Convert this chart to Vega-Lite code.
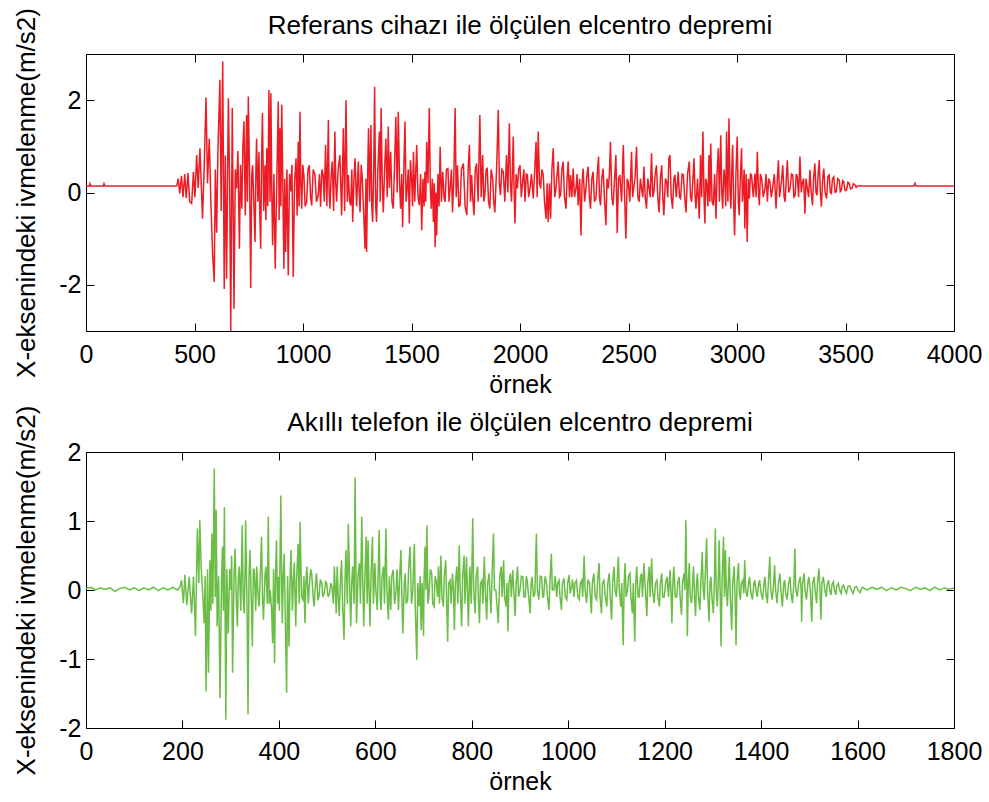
{
"$schema": "https://vega.github.io/schema/vega-lite/v6.json",
"background": "white",
"padding": {"left": 13, "top": 7, "right": 10, "bottom": 5},
"config": {
  "view": {"stroke": "black", "strokeWidth": 1},
  "font": "Liberation Sans",
  "axis": {"grid": false, "domain": false, "ticks": true, "tickColor": "black", "tickSize": -8, "labelColor": "black", "labelFontSize": 25, "labelFont": "Liberation Sans", "titleFont": "Liberation Sans", "titleFontSize": 25, "titleFontWeight": "normal", "titleColor": "black", "labelFlush": false, "labelOverlap": false, "labelExpr": "'' + datum.value"},
  "axisX": {"labelPadding": 19, "titlePadding": 5},
  "axisY": {"labelPadding": 13, "titlePadding": 19, "titleFontSize": 26},
  "title": {"fontSize": 26, "fontWeight": "normal", "font": "Liberation Sans", "color": "black", "offset": -31}
},
"datasets": {
"a": [{"x":0,"y":0.14},{"x":15,"y":0.14},{"x":18,"y":0.19},{"x":22,"y":0.14},{"x":80,"y":0.14},{"x":83,"y":0.19},{"x":87,"y":0.14},{"x":418,"y":0.14},
{"x":425,"y":0.3},{"x":432,"y":-0.02},{"x":440,"y":0.36},{"x":447,"y":-0.1},{"x":455,"y":0.4},{"x":462,"y":-0.12},{"x":470,"y":0.42},{"x":478,"y":-0.2},{"x":487,"y":-0.24},{"x":495,"y":0.45},{"x":502,"y":-0.1},{"x":510,"y":0.81},{"x":517,"y":0.1},{"x":525,"y":0.96},{"x":531,"y":0.2},{"x":537,"y":-0.57},{"x":545,"y":0.6},{"x":553,"y":2.06},{"x":560,"y":0.2},{"x":568,"y":1.17},{"x":576,"y":-0.3},{"x":584,"y":-1.39},{"x":591,"y":-1.94},{"x":596,"y":0.5},{"x":602,"y":-0.87},{"x":608,"y":0.9},{"x":617,"y":2.44},{"x":623,"y":-0.4},{"x":630,"y":2.84},{"x":637,"y":-2.09},{"x":642,"y":0.8},{"x":648,"y":-1.87},{"x":656,"y":2.04},{"x":662,"y":0.2},{"x":667,"y":-3.0},{"x":674,"y":1.83},{"x":678,"y":-0.3},{"x":682,"y":-2.52},{"x":688,"y":0.5},{"x":694,"y":0.09},{"x":700,"y":0.9},{"x":707,"y":-1.22},{"x":712,"y":0.6},{"x":718,"y":-0.35},{"x":723,"y":1.0},{"x":728,"y":1.54},{"x":734,"y":-0.5},{"x":740,"y":1.68},{"x":744,"y":-0.2},{"x":748,"y":2.08},{"x":754,"y":0.3},{"x":759,"y":-2.07},{"x":764,"y":0.4},{"x":768,"y":0.59},{"x":774,"y":-0.3},{"x":779,"y":-1.07},{"x":783,"y":0.5},{"x":786,"y":1.17},{"x":792,"y":-0.2},{"x":797,"y":0.88},{"x":801,"y":-0.5},{"x":805,"y":-1.22},{"x":809,"y":0.6},{"x":813,"y":1.72},{"x":819,"y":-0.4},{"x":825,"y":0.59},{"x":829,"y":-0.6},{"x":833,"y":0.96},{"x":838,"y":-0.3},{"x":843,"y":2.22},{"x":848,"y":-0.2},{"x":852,"y":2.15},{"x":856,"y":0.1},{"x":860,"y":-1.14},{"x":866,"y":0.4},{"x":872,"y":-1.65},{"x":879,"y":0.2},{"x":886,"y":1.97},{"x":890,"y":-0.6},{"x":894,"y":1.39},{"x":898,"y":-0.3},{"x":902,"y":1.9},{"x":907,"y":0.2},{"x":912,"y":-1.65},{"x":916,"y":0.3},{"x":920,"y":-1.29},{"x":926,"y":0.5},{"x":932,"y":-1.8},{"x":938,"y":0.4},{"x":943,"y":0.02},{"x":949,"y":0.6},{"x":955,"y":-1.83},{"x":961,"y":0.2},{"x":968,"y":0.74},{"x":973,"y":-0.5},{"x":978,"y":1.1},{"x":982,"y":-0.3},{"x":986,"y":1.75},{"x":990,"y":0.2},{"x":994,"y":-0.35},{"x":999,"y":0.6},{"x":1004,"y":0.38},{"x":1010,"y":-0.3},{"x":1017,"y":-0.2},{"x":1023,"y":0.5},{"x":1029,"y":0.59},{"x":1035,"y":-0.1},{"x":1040,"y":-0.28},{"x":1047,"y":0.5},{"x":1055,"y":0.38},{"x":1062,"y":-0.2},{"x":1070,"y":-0.06},{"x":1076,"y":0.4},{"x":1081,"y":-0.31},{"x":1087,"y":0.5},{"x":1093,"y":0.38},{"x":1098,"y":-0.2},{"x":1104,"y":1.03},{"x":1110,"y":-0.3},{"x":1117,"y":1.57},{"x":1120,"y":0.1},{"x":1124,"y":-0.35},{"x":1130,"y":0.4},{"x":1135,"y":0.67},{"x":1141,"y":-0.4},{"x":1147,"y":1.32},{"x":1151,"y":0.2},{"x":1155,"y":-0.2},{"x":1162,"y":0.5},{"x":1170,"y":0.81},{"x":1178,"y":-0.5},{"x":1186,"y":1.39},{"x":1192,"y":-0.4},{"x":1198,"y":2.0},{"x":1204,"y":-0.2},{"x":1209,"y":0.38},{"x":1215,"y":-0.2},{"x":1220,"y":-0.28},{"x":1225,"y":0.5},{"x":1229,"y":-0.64},{"x":1235,"y":0.3},{"x":1240,"y":0.74},{"x":1247,"y":-0.3},{"x":1255,"y":0.67},{"x":1259,"y":0.0},{"x":1263,"y":-0.43},{"x":1268,"y":0.6},{"x":1273,"y":0.34},{"x":1280,"y":-0.5},{"x":1286,"y":-1.22},{"x":1290,"y":0.3},{"x":1293,"y":-1.29},{"x":1298,"y":0.4},{"x":1302,"y":1.39},{"x":1307,"y":-0.2},{"x":1313,"y":1.46},{"x":1317,"y":-0.3},{"x":1321,"y":-0.64},{"x":1326,"y":0.5},{"x":1330,"y":2.29},{"x":1335,"y":-0.3},{"x":1339,"y":-0.64},{"x":1345,"y":0.5},{"x":1352,"y":1.32},{"x":1356,"y":-0.2},{"x":1360,"y":1.83},{"x":1365,"y":0.3},{"x":1370,"y":-0.43},{"x":1376,"y":0.5},{"x":1382,"y":1.17},{"x":1388,"y":-0.1},{"x":1393,"y":1.43},{"x":1398,"y":0.1},{"x":1404,"y":0.88},{"x":1410,"y":-0.2},{"x":1416,"y":-0.35},{"x":1422,"y":0.6},{"x":1428,"y":1.64},{"x":1434,"y":0.0},{"x":1439,"y":1.75},{"x":1445,"y":0.2},{"x":1450,"y":-0.35},{"x":1455,"y":0.4},{"x":1459,"y":-0.75},{"x":1465,"y":0.6},{"x":1470,"y":1.54},{"x":1475,"y":-0.2},{"x":1480,"y":0.09},{"x":1485,"y":0.5},{"x":1490,"y":-0.67},{"x":1495,"y":0.7},{"x":1501,"y":0.23},{"x":1505,"y":-0.3},{"x":1509,"y":0.88},{"x":1515,"y":-0.2},{"x":1520,"y":0.5},{"x":1524,"y":1.03},{"x":1530,"y":-0.1},{"x":1536,"y":-0.28},{"x":1542,"y":0.4},{"x":1547,"y":-0.82},{"x":1553,"y":0.3},{"x":1558,"y":-0.3},{"x":1562,"y":0.45},{"x":1566,"y":-0.2},{"x":1570,"y":1.1},{"x":1576,"y":0.2},{"x":1582,"y":1.83},{"x":1587,"y":0.1},{"x":1591,"y":-0.35},{"x":1596,"y":0.3},{"x":1601,"y":-0.64},{"x":1605,"y":0.2},{"x":1609,"y":-1.18},{"x":1613,"y":0.0},{"x":1616,"y":-0.93},{"x":1622,"y":0.4},{"x":1627,"y":-0.3},{"x":1632,"y":0.99},{"x":1638,"y":-0.2},{"x":1644,"y":0.45},{"x":1650,"y":-0.1},{"x":1655,"y":-0.2},{"x":1661,"y":0.5},{"x":1668,"y":0.52},{"x":1673,"y":-0.2},{"x":1678,"y":0.09},{"x":1684,"y":0.5},{"x":1689,"y":-0.43},{"x":1695,"y":0.3},{"x":1701,"y":1.83},{"x":1706,"y":-0.1},{"x":1712,"y":0.59},{"x":1718,"y":-0.3},{"x":1724,"y":-0.28},{"x":1730,"y":0.5},{"x":1739,"y":0.63},{"x":1747,"y":-0.3},{"x":1755,"y":-0.49},{"x":1761,"y":0.5},{"x":1767,"y":1.03},{"x":1772,"y":-0.2},{"x":1777,"y":0.38},{"x":1782,"y":-0.1},{"x":1788,"y":-0.49},{"x":1794,"y":0.5},{"x":1800,"y":0.63},{"x":1807,"y":-0.2},{"x":1815,"y":1.68},{"x":1821,"y":-0.1},{"x":1828,"y":0.81},{"x":1833,"y":-0.2},{"x":1838,"y":-0.06},{"x":1844,"y":0.5},{"x":1849,"y":0.52},{"x":1855,"y":-0.2},{"x":1861,"y":-0.35},{"x":1867,"y":0.5},{"x":1874,"y":0.3},{"x":1879,"y":-0.2},{"x":1884,"y":-0.43},{"x":1892,"y":0.5},{"x":1900,"y":1.79},{"x":1905,"y":0.2},{"x":1910,"y":-0.06},{"x":1916,"y":0.5},{"x":1923,"y":0.45},{"x":1930,"y":-0.2},{"x":1938,"y":0.81},{"x":1944,"y":0.0},{"x":1951,"y":1.5},{"x":1956,"y":0.2},{"x":1961,"y":-0.2},{"x":1965,"y":0.5},{"x":1969,"y":1.21},{"x":1973,"y":0.0},{"x":1977,"y":-0.67},{"x":1982,"y":0.4},{"x":1988,"y":0.09},{"x":1994,"y":0.5},{"x":2000,"y":0.59},{"x":2006,"y":-0.1},{"x":2012,"y":0.23},{"x":2018,"y":0.5},{"x":2023,"y":-0.2},{"x":2029,"y":0.4},{"x":2034,"y":0.38},{"x":2040,"y":-0.1},{"x":2046,"y":0.09},{"x":2053,"y":0.4},{"x":2061,"y":-0.13},{"x":2068,"y":0.5},{"x":2074,"y":1.1},{"x":2079,"y":-0.1},{"x":2084,"y":1.32},{"x":2090,"y":0.2},{"x":2095,"y":0.09},{"x":2101,"y":0.5},{"x":2107,"y":0.38},{"x":2113,"y":-0.2},{"x":2120,"y":-0.57},{"x":2125,"y":0.2},{"x":2130,"y":-0.64},{"x":2136,"y":0.2},{"x":2141,"y":-0.57},{"x":2147,"y":0.5},{"x":2153,"y":0.96},{"x":2160,"y":-0.1},{"x":2166,"y":0.09},{"x":2171,"y":0.4},{"x":2176,"y":0.67},{"x":2182,"y":-0.1},{"x":2187,"y":-0.06},{"x":2193,"y":0.5},{"x":2199,"y":0.67},{"x":2205,"y":-0.1},{"x":2212,"y":-0.35},{"x":2217,"y":0.3},{"x":2222,"y":0.67},{"x":2228,"y":-0.1},{"x":2233,"y":0.38},{"x":2239,"y":-0.1},{"x":2245,"y":0.52},{"x":2251,"y":-0.1},{"x":2258,"y":0.09},{"x":2263,"y":0.4},{"x":2268,"y":-0.28},{"x":2275,"y":0.3},{"x":2281,"y":-0.93},{"x":2286,"y":0.2},{"x":2291,"y":0.52},{"x":2298,"y":-0.2},{"x":2304,"y":0.09},{"x":2309,"y":0.4},{"x":2314,"y":0.56},{"x":2320,"y":-0.1},{"x":2325,"y":-0.35},{"x":2331,"y":0.3},{"x":2337,"y":0.45},{"x":2343,"y":-0.2},{"x":2350,"y":-0.13},{"x":2356,"y":0.4},{"x":2362,"y":0.78},{"x":2366,"y":-0.1},{"x":2371,"y":-0.28},{"x":2377,"y":0.3},{"x":2383,"y":0.52},{"x":2390,"y":-0.2},{"x":2396,"y":-0.71},{"x":2401,"y":0.3},{"x":2407,"y":0.09},{"x":2412,"y":0.4},{"x":2417,"y":1.1},{"x":2423,"y":-0.1},{"x":2429,"y":-0.28},{"x":2436,"y":0.3},{"x":2442,"y":0.81},{"x":2448,"y":-0.88},{"x":2454,"y":0.3},{"x":2460,"y":0.38},{"x":2468,"y":-0.2},{"x":2476,"y":1.03},{"x":2482,"y":-0.1},{"x":2488,"y":-1.0},{"x":2494,"y":0.3},{"x":2499,"y":0.23},{"x":2506,"y":-0.2},{"x":2514,"y":0.88},{"x":2519,"y":-0.1},{"x":2524,"y":0.09},{"x":2530,"y":0.3},{"x":2537,"y":0.99},{"x":2543,"y":-0.1},{"x":2549,"y":-0.2},{"x":2555,"y":0.3},{"x":2560,"y":0.09},{"x":2566,"y":-0.1},{"x":2571,"y":0.56},{"x":2577,"y":-0.1},{"x":2583,"y":-0.35},{"x":2589,"y":0.3},{"x":2595,"y":0.09},{"x":2600,"y":-0.1},{"x":2606,"y":0.85},{"x":2612,"y":-0.1},{"x":2617,"y":0.02},{"x":2623,"y":0.4},{"x":2629,"y":0.59},{"x":2635,"y":-0.1},{"x":2641,"y":-0.43},{"x":2647,"y":0.3},{"x":2653,"y":0.59},{"x":2658,"y":-0.1},{"x":2663,"y":-0.49},{"x":2670,"y":0.3},{"x":2676,"y":0.23},{"x":2681,"y":-0.1},{"x":2686,"y":0.74},{"x":2691,"y":0.81},{"x":2697,"y":-0.1},{"x":2703,"y":-0.35},{"x":2709,"y":0.3},{"x":2714,"y":0.38},{"x":2720,"y":-0.1},{"x":2729,"y":0.45},{"x":2735,"y":-0.1},{"x":2740,"y":-0.13},{"x":2747,"y":0.4},{"x":2753,"y":0.38},{"x":2759,"y":-0.1},{"x":2765,"y":-0.43},{"x":2772,"y":0.4},{"x":2780,"y":0.67},{"x":2786,"y":-0.1},{"x":2791,"y":-0.2},{"x":2797,"y":0.3},{"x":2802,"y":0.74},{"x":2807,"y":-0.1},{"x":2811,"y":-0.35},{"x":2818,"y":0.3},{"x":2826,"y":-0.57},{"x":2832,"y":0.81},{"x":2837,"y":-0.1},{"x":2843,"y":1.32},{"x":2848,"y":-0.1},{"x":2852,"y":-0.67},{"x":2856,"y":0.3},{"x":2860,"y":0.23},{"x":2866,"y":-0.3},{"x":2871,"y":0.81},{"x":2875,"y":-0.2},{"x":2879,"y":1.06},{"x":2885,"y":-0.2},{"x":2891,"y":-0.28},{"x":2897,"y":0.4},{"x":2903,"y":-0.57},{"x":2908,"y":0.4},{"x":2914,"y":0.96},{"x":2919,"y":-0.2},{"x":2925,"y":1.24},{"x":2930,"y":0.0},{"x":2934,"y":-0.35},{"x":2940,"y":0.5},{"x":2944,"y":0.3},{"x":2948,"y":-0.3},{"x":2952,"y":1.32},{"x":2958,"y":-0.2},{"x":2963,"y":1.61},{"x":2968,"y":0.0},{"x":2972,"y":-0.35},{"x":2976,"y":0.5},{"x":2980,"y":1.03},{"x":2985,"y":-0.3},{"x":2989,"y":-0.93},{"x":2995,"y":0.4},{"x":3001,"y":1.21},{"x":3006,"y":-0.2},{"x":3010,"y":-0.49},{"x":3016,"y":0.4},{"x":3021,"y":0.96},{"x":3025,"y":-0.2},{"x":3029,"y":0.09},{"x":3033,"y":0.5},{"x":3036,"y":-0.78},{"x":3042,"y":0.4},{"x":3047,"y":-1.07},{"x":3052,"y":0.3},{"x":3057,"y":-0.13},{"x":3062,"y":0.4},{"x":3067,"y":0.38},{"x":3075,"y":-0.1},{"x":3083,"y":0.41},{"x":3088,"y":-0.1},{"x":3094,"y":0.88},{"x":3099,"y":0.0},{"x":3103,"y":-0.28},{"x":3108,"y":0.4},{"x":3114,"y":0.3},{"x":3121,"y":-0.1},{"x":3129,"y":0.09},{"x":3134,"y":0.4},{"x":3140,"y":-0.2},{"x":3146,"y":0.3},{"x":3152,"y":0.23},{"x":3158,"y":-0.1},{"x":3164,"y":0.09},{"x":3172,"y":0.4},{"x":3180,"y":-0.35},{"x":3186,"y":0.3},{"x":3191,"y":0.7},{"x":3196,"y":-0.1},{"x":3201,"y":0.09},{"x":3206,"y":0.3},{"x":3211,"y":0.59},{"x":3217,"y":-0.1},{"x":3222,"y":-0.2},{"x":3227,"y":0.3},{"x":3232,"y":0.7},{"x":3238,"y":0.0},{"x":3245,"y":0.09},{"x":3251,"y":0.4},{"x":3257,"y":0.38},{"x":3262,"y":-0.1},{"x":3268,"y":-0.06},{"x":3273,"y":0.4},{"x":3278,"y":0.34},{"x":3284,"y":-0.1},{"x":3290,"y":0.78},{"x":3296,"y":0.0},{"x":3302,"y":0.23},{"x":3307,"y":0.3},{"x":3313,"y":-0.46},{"x":3318,"y":0.3},{"x":3324,"y":0.09},{"x":3330,"y":-0.1},{"x":3336,"y":0.49},{"x":3342,"y":0.0},{"x":3348,"y":-0.28},{"x":3353,"y":0.3},{"x":3359,"y":0.63},{"x":3364,"y":0.0},{"x":3369,"y":-0.06},{"x":3374,"y":0.4},{"x":3379,"y":0.7},{"x":3384,"y":0.0},{"x":3389,"y":-0.31},{"x":3395,"y":0.3},{"x":3400,"y":0.52},{"x":3406,"y":0.0},{"x":3413,"y":-0.13},{"x":3419,"y":0.35},{"x":3425,"y":0.38},{"x":3430,"y":0.0},{"x":3435,"y":-0.02},{"x":3440,"y":0.3},{"x":3446,"y":0.34},{"x":3452,"y":0.0},{"x":3458,"y":0.02},{"x":3464,"y":0.3},{"x":3471,"y":0.27},{"x":3476,"y":0.02},{"x":3481,"y":0.05},{"x":3487,"y":0.26},{"x":3492,"y":0.23},{"x":3498,"y":0.04},{"x":3505,"y":0.05},{"x":3511,"y":0.22},{"x":3517,"y":0.2},{"x":3523,"y":0.08},{"x":3530,"y":0.09},{"x":3536,"y":0.19},{"x":3543,"y":0.17},{"x":3549,"y":0.11},{"x":3554,"y":0.14},{"x":3600,"y":0.14},{"x":3815,"y":0.14},{"x":3820,"y":0.2},{"x":3825,"y":0.14},{"x":4000,"y":0.14}],
"b": [{"x":0,"y":0.02},{"x":10,"y":0.04},{"x":20,"y":0.0},{"x":30,"y":0.03},{"x":40,"y":0.01},{"x":50,"y":0.03},{"x":60,"y":-0.02},{"x":70,"y":0.02},{"x":80,"y":0.04},{"x":90,"y":0.0},{"x":100,"y":0.03},{"x":110,"y":-0.01},{"x":120,"y":0.03},{"x":130,"y":0.0},{"x":140,"y":0.04},{"x":150,"y":-0.01},{"x":160,"y":0.03},{"x":170,"y":0.0},{"x":180,"y":0.04},{"x":190,"y":0.0},{"x":195,"y":0.05},
{"x":198,"y":0.14},{"x":202,"y":-0.19},{"x":205,"y":0.22},{"x":209,"y":-0.22},{"x":214,"y":0.19},{"x":219,"y":-0.34},{"x":223,"y":0.19},{"x":227,"y":-0.67},{"x":231,"y":0.89},{"x":234,"y":0.1},{"x":236,"y":1.01},{"x":239,"y":0.3},{"x":242,"y":-0.05},{"x":245,"y":-0.48},{"x":247,"y":0.2},{"x":249,"y":-1.47},{"x":252,"y":0.3},{"x":254,"y":-1.2},{"x":257,"y":0.43},{"x":259,"y":-0.3},{"x":261,"y":0.82},{"x":263,"y":-0.2},{"x":266,"y":1.76},{"x":268,"y":-0.1},{"x":270,"y":1.16},{"x":272,"y":-0.53},{"x":275,"y":0.2},{"x":278,"y":-1.57},{"x":281,"y":0.1},{"x":283,"y":0.63},{"x":285,"y":-0.3},{"x":287,"y":1.2},{"x":290,"y":-1.88},{"x":292,"y":0.3},{"x":295,"y":-0.63},{"x":298,"y":0.3},{"x":300,"y":0.0},{"x":302,"y":0.5},{"x":304,"y":-1.2},{"x":307,"y":0.2},{"x":309,"y":0.6},{"x":312,"y":-0.2},{"x":314,"y":-0.53},{"x":316,"y":0.2},{"x":318,"y":0.34},{"x":321,"y":-0.3},{"x":324,"y":0.94},{"x":326,"y":-0.1},{"x":328,"y":-0.34},{"x":330,"y":0.3},{"x":331,"y":1.01},{"x":334,"y":-0.3},{"x":336,"y":-1.8},{"x":338,"y":0.2},{"x":340,"y":0.58},{"x":343,"y":-0.2},{"x":345,"y":-0.82},{"x":347,"y":0.3},{"x":349,"y":0.29},{"x":352,"y":-0.3},{"x":354,"y":0.34},{"x":357,"y":-0.1},{"x":359,"y":-0.24},{"x":362,"y":0.3},{"x":364,"y":0.77},{"x":366,"y":-0.1},{"x":368,"y":-0.43},{"x":371,"y":0.2},{"x":373,"y":0.34},{"x":376,"y":-0.2},{"x":378,"y":1.06},{"x":380,"y":-0.2},{"x":382,"y":0.0},{"x":385,"y":-0.3},{"x":387,"y":-0.77},{"x":389,"y":0.3},{"x":391,"y":-1.06},{"x":393,"y":0.2},{"x":395,"y":0.72},{"x":397,"y":-0.2},{"x":399,"y":0.19},{"x":401,"y":-0.3},{"x":404,"y":1.37},{"x":406,"y":0.0},{"x":407,"y":-0.48},{"x":409,"y":0.2},{"x":411,"y":0.53},{"x":413,"y":-0.3},{"x":416,"y":-1.49},{"x":418,"y":0.2},{"x":421,"y":-0.82},{"x":423,"y":0.1},{"x":425,"y":0.58},{"x":428,"y":-0.3},{"x":430,"y":0.14},{"x":432,"y":0.4},{"x":435,"y":-0.53},{"x":437,"y":0.2},{"x":440,"y":0.67},{"x":442,"y":-0.2},{"x":444,"y":0.99},{"x":447,"y":-0.1},{"x":450,"y":-0.14},{"x":452,"y":0.2},{"x":454,"y":-0.48},{"x":456,"y":0.1},{"x":458,"y":0.34},{"x":461,"y":-0.2},{"x":463,"y":0.05},{"x":466,"y":0.3},{"x":468,"y":0.24},{"x":471,"y":-0.1},{"x":473,"y":-0.24},{"x":476,"y":0.1},{"x":478,"y":0.24},{"x":481,"y":-0.15},{"x":483,"y":-0.1},{"x":486,"y":0.15},{"x":489,"y":0.1},{"x":491,"y":-0.1},{"x":494,"y":-0.05},{"x":497,"y":0.12},{"x":499,"y":0.1},{"x":502,"y":-0.1},{"x":505,"y":-0.05},{"x":508,"y":0.1},{"x":510,"y":0.05},{"x":513,"y":-0.2},{"x":515,"y":0.34},{"x":517,"y":0.0},{"x":519,"y":-0.34},{"x":520,"y":0.1},{"x":521,"y":0.34},{"x":523,"y":-0.1},{"x":525,"y":-0.38},{"x":528,"y":0.2},{"x":530,"y":0.43},{"x":532,"y":-0.2},{"x":535,"y":-0.72},{"x":537,"y":0.1},{"x":539,"y":0.58},{"x":542,"y":-0.2},{"x":544,"y":0.96},{"x":547,"y":0.0},{"x":549,"y":-0.53},{"x":551,"y":0.1},{"x":553,"y":0.34},{"x":556,"y":-0.2},{"x":558,"y":1.63},{"x":560,"y":0.2},{"x":561,"y":-0.48},{"x":564,"y":0.2},{"x":567,"y":0.39},{"x":569,"y":-0.2},{"x":572,"y":1.06},{"x":574,"y":0.1},{"x":576,"y":-0.53},{"x":578,"y":0.1},{"x":581,"y":0.77},{"x":583,"y":-0.2},{"x":585,"y":0.72},{"x":587,"y":0.0},{"x":589,"y":-0.53},{"x":591,"y":0.2},{"x":594,"y":0.77},{"x":596,"y":-0.2},{"x":599,"y":0.39},{"x":601,"y":0.0},{"x":604,"y":-0.29},{"x":606,"y":0.3},{"x":608,"y":0.87},{"x":610,"y":-0.1},{"x":612,"y":-0.29},{"x":614,"y":0.2},{"x":617,"y":0.34},{"x":619,"y":-0.2},{"x":622,"y":0.89},{"x":624,"y":0.0},{"x":627,"y":-0.43},{"x":629,"y":0.2},{"x":632,"y":-0.29},{"x":634,"y":0.2},{"x":637,"y":0.29},{"x":640,"y":-0.2},{"x":643,"y":0.0},{"x":645,"y":0.3},{"x":648,"y":-0.29},{"x":650,"y":0.1},{"x":653,"y":0.58},{"x":655,"y":-0.1},{"x":657,"y":-0.63},{"x":660,"y":0.1},{"x":662,"y":0.24},{"x":664,"y":-0.2},{"x":667,"y":-0.14},{"x":669,"y":0.3},{"x":672,"y":0.63},{"x":675,"y":-0.2},{"x":678,"y":0.0},{"x":679,"y":0.3},{"x":681,"y":0.67},{"x":683,"y":-0.3},{"x":686,"y":-1.01},{"x":688,"y":0.1},{"x":691,"y":-0.24},{"x":693,"y":0.2},{"x":695,"y":-0.58},{"x":697,"y":0.1},{"x":700,"y":-0.67},{"x":701,"y":0.1},{"x":703,"y":0.63},{"x":705,"y":0.0},{"x":707,"y":0.94},{"x":709,"y":-0.2},{"x":711,"y":-0.1},{"x":714,"y":0.3},{"x":717,"y":0.24},{"x":719,"y":-0.2},{"x":722,"y":-0.24},{"x":724,"y":0.2},{"x":727,"y":0.1},{"x":729,"y":-0.1},{"x":731,"y":0.34},{"x":733,"y":-0.2},{"x":736,"y":0.5},{"x":738,"y":-0.1},{"x":741,"y":-0.24},{"x":743,"y":0.2},{"x":746,"y":0.43},{"x":748,"y":-0.2},{"x":750,"y":-0.75},{"x":752,"y":0.1},{"x":755,"y":0.14},{"x":757,"y":-0.2},{"x":760,"y":0.24},{"x":762,"y":0.0},{"x":764,"y":-0.58},{"x":766,"y":0.1},{"x":769,"y":0.34},{"x":771,"y":-0.2},{"x":774,"y":0.65},{"x":776,"y":0.0},{"x":779,"y":-0.53},{"x":781,"y":0.2},{"x":784,"y":0.5},{"x":786,"y":-0.2},{"x":789,"y":0.48},{"x":791,"y":0.0},{"x":793,"y":-0.53},{"x":795,"y":0.1},{"x":796,"y":0.34},{"x":799,"y":-0.2},{"x":802,"y":1.04},{"x":804,"y":0.0},{"x":807,"y":-0.34},{"x":809,"y":0.2},{"x":812,"y":0.34},{"x":814,"y":-0.2},{"x":816,"y":-0.48},{"x":818,"y":0.1},{"x":821,"y":0.14},{"x":823,"y":-0.2},{"x":826,"y":0.48},{"x":828,"y":0.0},{"x":831,"y":-0.43},{"x":833,"y":0.1},{"x":836,"y":0.24},{"x":838,"y":-0.1},{"x":840,"y":-0.34},{"x":842,"y":0.2},{"x":845,"y":0.82},{"x":847,"y":0.0},{"x":850,"y":0.0},{"x":852,"y":-0.2},{"x":855,"y":-0.48},{"x":858,"y":0.2},{"x":861,"y":0.34},{"x":863,"y":-0.1},{"x":866,"y":0.43},{"x":868,"y":-0.1},{"x":871,"y":-0.24},{"x":873,"y":0.1},{"x":875,"y":-0.6},{"x":877,"y":0.1},{"x":880,"y":0.24},{"x":882,"y":-0.1},{"x":885,"y":0.29},{"x":887,"y":0.0},{"x":890,"y":-0.38},{"x":892,"y":0.1},{"x":895,"y":0.34},{"x":897,"y":-0.1},{"x":900,"y":0.0},{"x":903,"y":0.2},{"x":906,"y":0.19},{"x":908,"y":-0.1},{"x":911,"y":-0.1},{"x":913,"y":0.2},{"x":915,"y":0.14},{"x":918,"y":-0.1},{"x":921,"y":-0.34},{"x":923,"y":0.1},{"x":925,"y":0.19},{"x":928,"y":-0.1},{"x":931,"y":-0.05},{"x":932,"y":0.3},{"x":934,"y":0.82},{"x":936,"y":0.0},{"x":939,"y":-0.14},{"x":942,"y":0.2},{"x":945,"y":0.19},{"x":947,"y":-0.1},{"x":949,"y":-0.1},{"x":952,"y":0.2},{"x":955,"y":0.1},{"x":957,"y":-0.1},{"x":960,"y":-0.29},{"x":962,"y":0.1},{"x":965,"y":0.53},{"x":967,"y":0.0},{"x":970,"y":0.0},{"x":973,"y":0.2},{"x":976,"y":-0.1},{"x":978,"y":0.1},{"x":981,"y":0.14},{"x":983,"y":-0.1},{"x":986,"y":-0.29},{"x":988,"y":0.1},{"x":991,"y":0.17},{"x":994,"y":-0.1},{"x":997,"y":-0.14},{"x":999,"y":0.1},{"x":1002,"y":0.22},{"x":1004,"y":-0.05},{"x":1007,"y":0.05},{"x":1009,"y":0.15},{"x":1012,"y":-0.1},{"x":1014,"y":0.1},{"x":1017,"y":0.14},{"x":1020,"y":-0.1},{"x":1023,"y":-0.14},{"x":1025,"y":0.1},{"x":1028,"y":0.14},{"x":1030,"y":-0.1},{"x":1033,"y":0.5},{"x":1035,"y":0.0},{"x":1038,"y":-0.19},{"x":1041,"y":0.15},{"x":1044,"y":0.1},{"x":1046,"y":-0.1},{"x":1048,"y":-0.34},{"x":1050,"y":0.1},{"x":1053,"y":0.24},{"x":1056,"y":-0.1},{"x":1059,"y":-0.14},{"x":1061,"y":0.15},{"x":1064,"y":0.39},{"x":1066,"y":-0.1},{"x":1069,"y":-0.34},{"x":1071,"y":0.1},{"x":1074,"y":0.14},{"x":1077,"y":-0.1},{"x":1080,"y":-0.24},{"x":1082,"y":0.1},{"x":1085,"y":0.24},{"x":1087,"y":-0.1},{"x":1090,"y":-0.43},{"x":1092,"y":0.1},{"x":1095,"y":0.34},{"x":1097,"y":0.0},{"x":1100,"y":-0.1},{"x":1102,"y":0.2},{"x":1104,"y":0.48},{"x":1106,"y":0.0},{"x":1109,"y":-0.24},{"x":1111,"y":0.1},{"x":1114,"y":-0.8},{"x":1116,"y":0.1},{"x":1118,"y":0.39},{"x":1120,"y":-0.1},{"x":1123,"y":0.0},{"x":1125,"y":0.2},{"x":1128,"y":0.24},{"x":1130,"y":-0.1},{"x":1133,"y":-0.34},{"x":1135,"y":0.1},{"x":1138,"y":-0.75},{"x":1140,"y":0.1},{"x":1142,"y":0.34},{"x":1145,"y":-0.1},{"x":1147,"y":-0.1},{"x":1150,"y":0.2},{"x":1152,"y":0.24},{"x":1154,"y":-0.1},{"x":1157,"y":0.39},{"x":1160,"y":0.0},{"x":1163,"y":-0.38},{"x":1165,"y":0.1},{"x":1168,"y":0.34},{"x":1170,"y":-0.1},{"x":1173,"y":0.46},{"x":1175,"y":0.0},{"x":1178,"y":-0.19},{"x":1181,"y":0.1},{"x":1184,"y":0.14},{"x":1186,"y":-0.1},{"x":1189,"y":-0.24},{"x":1191,"y":0.1},{"x":1194,"y":0.24},{"x":1196,"y":-0.1},{"x":1199,"y":-0.1},{"x":1202,"y":0.1},{"x":1205,"y":0.19},{"x":1208,"y":-0.1},{"x":1211,"y":0.29},{"x":1213,"y":0.0},{"x":1215,"y":-0.48},{"x":1217,"y":0.1},{"x":1219,"y":0.34},{"x":1222,"y":-0.1},{"x":1225,"y":-0.1},{"x":1227,"y":0.1},{"x":1230,"y":0.19},{"x":1232,"y":-0.1},{"x":1235,"y":-0.36},{"x":1237,"y":0.1},{"x":1240,"y":0.24},{"x":1242,"y":0.0},{"x":1244,"y":1.01},{"x":1246,"y":0.0},{"x":1247,"y":-0.67},{"x":1249,"y":0.1},{"x":1251,"y":0.39},{"x":1253,"y":-0.1},{"x":1256,"y":-0.19},{"x":1258,"y":0.1},{"x":1260,"y":0.34},{"x":1262,"y":-0.1},{"x":1264,"y":-0.38},{"x":1266,"y":0.1},{"x":1268,"y":0.24},{"x":1270,"y":-0.1},{"x":1273,"y":-0.29},{"x":1275,"y":0.1},{"x":1278,"y":0.55},{"x":1280,"y":0.0},{"x":1282,"y":-0.14},{"x":1284,"y":0.2},{"x":1287,"y":0.75},{"x":1289,"y":0.0},{"x":1292,"y":-0.46},{"x":1294,"y":0.1},{"x":1296,"y":0.19},{"x":1298,"y":-0.1},{"x":1301,"y":-0.34},{"x":1303,"y":0.1},{"x":1305,"y":0.89},{"x":1307,"y":0.0},{"x":1309,"y":-0.24},{"x":1311,"y":0.1},{"x":1313,"y":0.72},{"x":1315,"y":0.0},{"x":1317,"y":-0.82},{"x":1319,"y":0.1},{"x":1322,"y":0.77},{"x":1324,"y":-0.1},{"x":1326,"y":0.58},{"x":1328,"y":0.0},{"x":1330,"y":-0.24},{"x":1332,"y":0.1},{"x":1334,"y":0.48},{"x":1336,"y":-0.1},{"x":1339,"y":-0.58},{"x":1341,"y":0.1},{"x":1344,"y":0.34},{"x":1346,"y":-0.1},{"x":1348,"y":-0.8},{"x":1350,"y":0.1},{"x":1353,"y":0.39},{"x":1355,"y":-0.05},{"x":1357,"y":-0.14},{"x":1359,"y":0.1},{"x":1362,"y":0.14},{"x":1364,"y":-0.05},{"x":1366,"y":0.43},{"x":1368,"y":0.0},{"x":1371,"y":-0.1},{"x":1374,"y":0.1},{"x":1376,"y":0.19},{"x":1379,"y":-0.05},{"x":1382,"y":-0.14},{"x":1385,"y":0.1},{"x":1387,"y":0.14},{"x":1390,"y":-0.05},{"x":1392,"y":-0.1},{"x":1395,"y":0.1},{"x":1397,"y":0.14},{"x":1400,"y":-0.05},{"x":1403,"y":-0.14},{"x":1406,"y":0.1},{"x":1408,"y":0.19},{"x":1410,"y":-0.05},{"x":1413,"y":-0.19},{"x":1415,"y":0.1},{"x":1418,"y":0.48},{"x":1420,"y":0.0},{"x":1423,"y":-0.14},{"x":1426,"y":0.1},{"x":1428,"y":0.36},{"x":1430,"y":0.0},{"x":1433,"y":-0.19},{"x":1436,"y":0.1},{"x":1439,"y":0.24},{"x":1441,"y":0.0},{"x":1444,"y":-0.24},{"x":1447,"y":0.1},{"x":1449,"y":0.14},{"x":1451,"y":-0.05},{"x":1454,"y":-0.14},{"x":1457,"y":0.1},{"x":1460,"y":0.19},{"x":1462,"y":-0.05},{"x":1465,"y":-0.19},{"x":1468,"y":0.1},{"x":1470,"y":0.6},{"x":1472,"y":0.0},{"x":1475,"y":-0.1},{"x":1478,"y":0.1},{"x":1481,"y":0.19},{"x":1483,"y":0.0},{"x":1484,"y":-0.46},{"x":1486,"y":0.1},{"x":1489,"y":0.24},{"x":1491,"y":0.0},{"x":1494,"y":-0.14},{"x":1497,"y":0.1},{"x":1499,"y":0.19},{"x":1502,"y":0.0},{"x":1505,"y":-0.46},{"x":1507,"y":0.1},{"x":1510,"y":0.19},{"x":1512,"y":0.0},{"x":1515,"y":-0.19},{"x":1517,"y":0.1},{"x":1520,"y":0.31},{"x":1522,"y":0.0},{"x":1524,"y":-0.43},{"x":1526,"y":0.1},{"x":1529,"y":0.19},{"x":1532,"y":0.0},{"x":1535,"y":-0.1},{"x":1537,"y":0.08},{"x":1540,"y":0.14},{"x":1542,"y":0.0},{"x":1545,"y":-0.07},{"x":1547,"y":0.08},{"x":1550,"y":0.12},{"x":1552,"y":0.0},{"x":1555,"y":-0.07},{"x":1557,"y":0.06},{"x":1560,"y":0.1},{"x":1563,"y":0.0},{"x":1566,"y":-0.05},{"x":1568,"y":0.05},{"x":1571,"y":0.07},{"x":1574,"y":0.0},{"x":1577,"y":-0.05},{"x":1580,"y":0.05},{"x":1584,"y":0.06},{"x":1587,"y":0.0},{"x":1591,"y":-0.05},{"x":1594,"y":0.04},{"x":1598,"y":0.05},{"x":1601,"y":0.0},{"x":1605,"y":-0.04},{"x":1610,"y":0.04},{"x":1620,"y":0.0},{"x":1630,"y":0.04},{"x":1640,"y":0.01},{"x":1650,"y":0.04},{"x":1660,"y":-0.01},{"x":1670,"y":0.03},{"x":1680,"y":0.0},{"x":1690,"y":0.04},{"x":1700,"y":0.02},{"x":1710,"y":-0.01},{"x":1720,"y":0.04},{"x":1730,"y":0.01},{"x":1740,"y":0.03},{"x":1750,"y":-0.01},{"x":1760,"y":0.04},{"x":1770,"y":0.0},{"x":1780,"y":0.03},{"x":1790,"y":0.01},{"x":1800,"y":0.03}]
},
"bounds": "flush",
"spacing": 121,
"vconcat": [
  {
    "title": "Referans cihazı ile ölçülen elcentro depremi",
    "width": 868, "height": 277,
    "data": {"name": "a"},
    "layer": [
      {"mark": {"type": "line", "color": "#ed1c24", "strokeWidth": 1.5, "clip": true},
       "encoding": {
         "x": {"field": "x", "type": "quantitative", "scale": {"domain": [0, 4000], "nice": false, "zero": false}, "axis": {"title": "örnek", "values": [0,500,1000,1500,2000,2500,3000,3500,4000]}},
         "y": {"field": "y", "type": "quantitative", "scale": {"domain": [-3, 3], "nice": false, "zero": false}, "axis": {"title": "X-eksenindeki ivmelenme(m/s2)", "values": [-2,0,2]}}
       }},
      {"mark": {"type": "point", "opacity": 0},
       "encoding": {
         "x": {"field": "x", "type": "quantitative", "scale": {"domain": [0, 4000], "nice": false, "zero": false}, "axis": {"orient": "top", "title": null, "labels": false, "values": [0,500,1000,1500,2000,2500,3000,3500,4000]}},
         "y": {"field": "y", "type": "quantitative", "scale": {"domain": [-3, 3], "nice": false, "zero": false}, "axis": {"orient": "right", "title": null, "labels": false, "values": [-2,0,2]}}
       }}
    ],
    "resolve": {"axis": {"x": "independent", "y": "independent"}}
  },
  {
    "title": "Akıllı telefon ile ölçülen elcentro depremi",
    "width": 868, "height": 276,
    "data": {"name": "b"},
    "layer": [
      {"mark": {"type": "line", "color": "#6abd45", "strokeWidth": 1.5, "clip": true},
       "encoding": {
         "x": {"field": "x", "type": "quantitative", "scale": {"domain": [0, 1800], "nice": false, "zero": false}, "axis": {"title": "örnek", "values": [0,200,400,600,800,1000,1200,1400,1600,1800]}},
         "y": {"field": "y", "type": "quantitative", "scale": {"domain": [-2, 2], "nice": false, "zero": false}, "axis": {"title": "X-eksenindeki ivmelenme(m/s2)", "values": [-2,-1,0,1,2]}}
       }},
      {"mark": {"type": "point", "opacity": 0},
       "encoding": {
         "x": {"field": "x", "type": "quantitative", "scale": {"domain": [0, 1800], "nice": false, "zero": false}, "axis": {"orient": "top", "title": null, "labels": false, "values": [0,200,400,600,800,1000,1200,1400,1600,1800]}},
         "y": {"field": "y", "type": "quantitative", "scale": {"domain": [-2, 2], "nice": false, "zero": false}, "axis": {"orient": "right", "title": null, "labels": false, "values": [-2,-1,0,1,2]}}
       }}
    ],
    "resolve": {"axis": {"x": "independent", "y": "independent"}}
  }
]
}
